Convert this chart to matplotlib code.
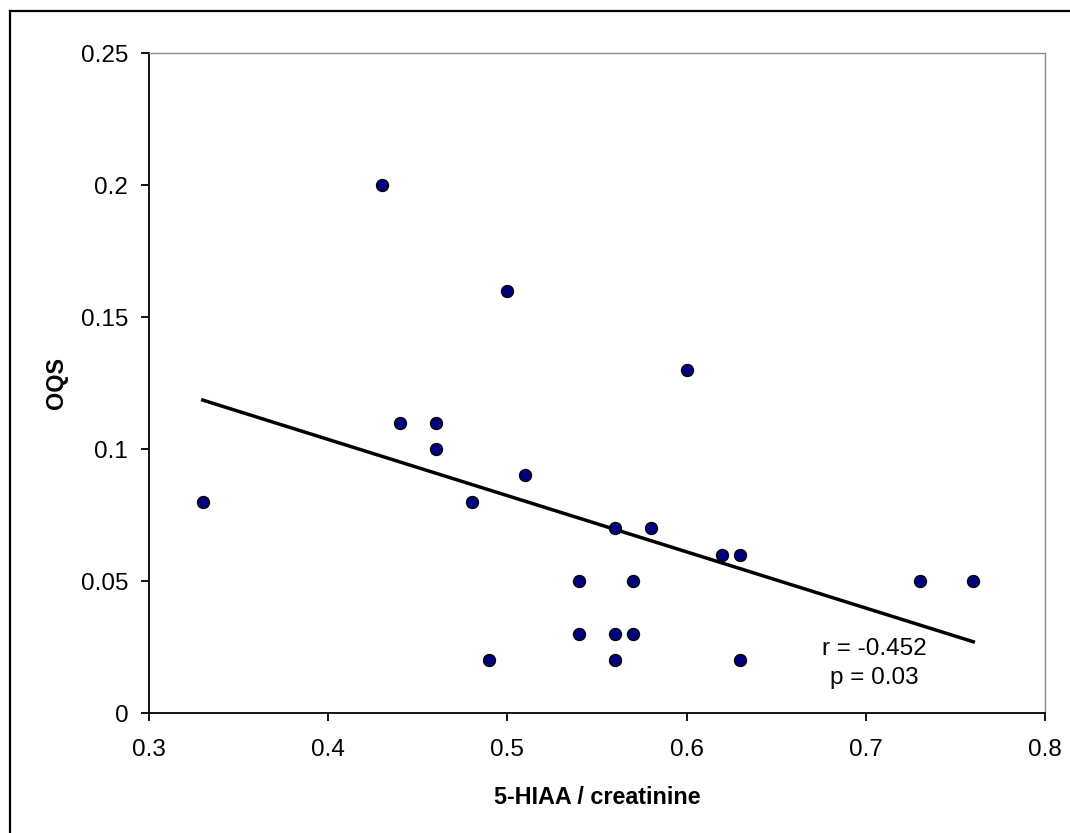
import numpy as np
import matplotlib
matplotlib.use("Agg")
import matplotlib.pyplot as plt
from matplotlib.lines import Line2D

plt.rcParams.update({
    "font.family": ["Liberation Sans", "DejaVu Sans"],
    "font.size": 17,
})

# 5-HIAA / creatinine vs OQS
hiaa = [0.33, 0.43, 0.44, 0.46, 0.46, 0.48, 0.49, 0.50, 0.51, 0.54, 0.54, 0.56,
        0.56, 0.56, 0.57, 0.57, 0.58, 0.60, 0.62, 0.63, 0.63, 0.73, 0.76]
oqs = [0.08, 0.20, 0.11, 0.11, 0.10, 0.08, 0.02, 0.16, 0.09, 0.05, 0.03, 0.07,
       0.03, 0.02, 0.05, 0.03, 0.07, 0.13, 0.06, 0.06, 0.02, 0.05, 0.05]
x_ticks = [0.3, 0.4, 0.5, 0.6, 0.7, 0.8]
y_ticks = [0, 0.05, 0.1, 0.15, 0.2, 0.25]
stats_text = "r = -0.452\np = 0.03"

x = np.array(hiaa)
y = np.array(oqs)
slope, icpt = np.polyfit(x, y, 1)
xf = np.array([x.min(), x.max()])

fig = plt.figure(figsize=(10.7, 8.33), dpi=100)
ax = fig.add_axes([149 / 1070, 1 - 713 / 833, (1045 - 149) / 1070, (713 - 53) / 833])

ax.plot(xf, slope * xf + icpt, color="black", lw=2.5, zorder=2)
ax.plot(x, y, "o", ms=8.6, mfc="#000080", mec="black", mew=1.0, zorder=3)

ax.set_xlim(0.3, 0.8)
ax.set_ylim(0, 0.25)
ax.set_xticks(x_ticks, [f"{v:g}" for v in x_ticks])
ax.set_yticks(y_ticks, [f"{v:g}" for v in y_ticks])
ax.tick_params(axis="both", direction="out", length=6, width=1.3, labelsize=17.5)
ax.tick_params(axis="y", pad=9)
ax.tick_params(axis="x", pad=13)

for s in ["left", "bottom"]:
    ax.spines[s].set_color("black")
    ax.spines[s].set_linewidth(1.3)
for s in ["top", "right"]:
    ax.spines[s].set_color("#8c8c8c")
    ax.spines[s].set_linewidth(1.0)

ax.set_xlabel("5-HIAA / creatinine", fontsize=16.8, fontweight="bold", labelpad=18)
ax.set_ylabel("OQS", fontsize=16.8, fontweight="bold")
ax.yaxis.set_label_coords(-0.090, 0.5)

ax.text(0.705, 0.0188, stats_text, ha="center", va="center",
        multialignment="center", fontsize=17.5, linespacing=1.42)

# outer chart border (only left and top edges are visible in the crop)
fig.add_artist(Line2D([10 / 1070, 10 / 1070], [0, 1 - 11 / 833], color="black",
                      lw=1.6, transform=fig.transFigure))
fig.add_artist(Line2D([10 / 1070, 1], [1 - 11 / 833, 1 - 11 / 833], color="black",
                      lw=1.6, transform=fig.transFigure))

fig.savefig("out.png", dpi=100)
